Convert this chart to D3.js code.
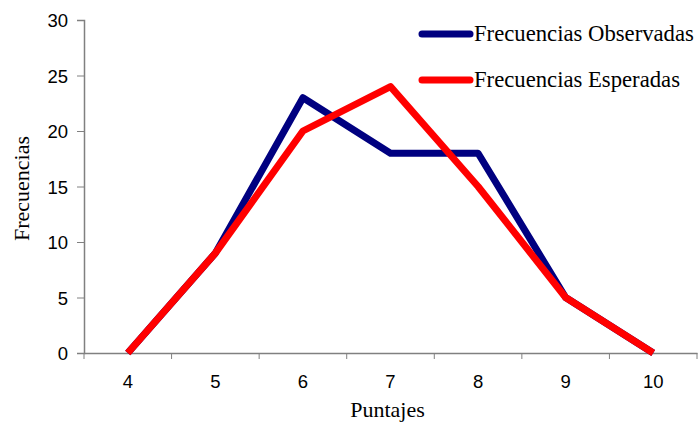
<!DOCTYPE html>
<html>
<head>
<meta charset="utf-8">
<script src="https://cdn.jsdelivr.net/npm/d3@7"></script>
<style>
  body { margin: 0; background: #fff; }
  svg { display: block; }
</style>
</head>
<body>
<svg id="chart" width="699" height="423"></svg>
<script>
// Data
var puntajes = ["4", "5", "6", "7", "8", "9", "10"];
var observadas = [0, 9, 23, 18, 18, 5, 0];
var esperadas = [0, 9, 20, 24, 15, 5, 0];
var yTicks = [0, 5, 10, 15, 20, 25, 30];

var series = [
    { name: "Frecuencias Observadas", values: observadas, color: "#000080" },
    { name: "Frecuencias Esperadas", values: esperadas, color: "#ff0000" }
];

var svg = d3.select("#chart"),
    // plot area
    plotLeft = 84,
    plotRight = 697,
    plotTop = 20,
    plotBottom = 353,
    axisColor = "#808080",
    serif = "'Liberation Serif', 'Times New Roman', serif",
    sans = "'Liberation Sans', Arial, sans-serif";

var x = d3.scaleBand().domain(puntajes).range([plotLeft, plotRight]).padding(0),
    y = d3.scaleLinear().domain([0, 30]).range([plotBottom, plotTop]);

// Y axis
var yAxis = svg.append("g")
    .attr("transform", "translate(" + plotLeft + ",0)")
    .call(d3.axisLeft(y).tickValues(yTicks).tickSize(7).tickPadding(9));

// X axis, ticks sit between the categories
var xAxis = svg.append("g")
    .attr("transform", "translate(0," + plotBottom + ")")
    .call(d3.axisBottom(x).tickSize(0).tickPadding(22));

xAxis.selectAll(".tickmark")
    .data(puntajes.concat(["end"]))
    .enter()
    .append("line")
    .attr("class", "tickmark")
    .attr("x1", function (d, i) { return plotLeft + i * x.bandwidth(); })
    .attr("x2", function (d, i) { return plotLeft + i * x.bandwidth(); })
    .attr("y1", 0)
    .attr("y2", 6)
    .attr("stroke", axisColor);

[yAxis, xAxis].forEach(function (g) {
    g.selectAll("path.domain").attr("stroke", axisColor).attr("stroke-width", 1.5);
    g.selectAll(".tick line").attr("stroke", axisColor);
    g.selectAll("text")
        .style("font-family", sans)
        .style("font-size", "18.5px")
        .attr("fill", "#000");
});
yAxis.selectAll("text").attr("dy", "0.36em");

// Lines
var line = d3.line()
    .x(function (d, i) { return x(puntajes[i]) + x.bandwidth() / 2; })
    .y(function (d) { return y(d); });

series.forEach(function (s) {
    svg.append("path")
        .datum(s.values)
        .attr("d", line)
        .attr("fill", "none")
        .attr("stroke", s.color)
        .attr("stroke-width", 7)
        .attr("stroke-linejoin", "round")
        .attr("stroke-linecap", "butt");
});

// Axis titles
svg.append("text")
    .attr("x", (plotLeft + plotRight) / 2 - 3)
    .attr("y", 417)
    .attr("text-anchor", "middle")
    .style("font-family", serif)
    .style("font-size", "22px")
    .text("Puntajes");

svg.append("text")
    .attr("transform", "translate(29," + ((plotTop + plotBottom) / 2 + 2) + ") rotate(-90)")
    .attr("text-anchor", "middle")
    .style("font-family", serif)
    .style("font-size", "22px")
    .text("Frecuencias");

// Legend
var legend = svg.append("g").attr("transform", "translate(420,34)");
series.forEach(function (s, i) {
    var row = legend.append("g").attr("transform", "translate(0," + i * 46 + ")");
    row.append("line")
        .attr("x1", 2).attr("x2", 50)
        .attr("y1", 0).attr("y2", 0)
        .attr("stroke", s.color)
        .attr("stroke-width", 7)
        .attr("stroke-linecap", "round");
    row.append("text")
        .attr("x", 54)
        .attr("y", 7)
        .style("font-family", serif)
        .style("font-size", "22.7px")
        .text(s.name);
});
</script>
</body>
</html>
